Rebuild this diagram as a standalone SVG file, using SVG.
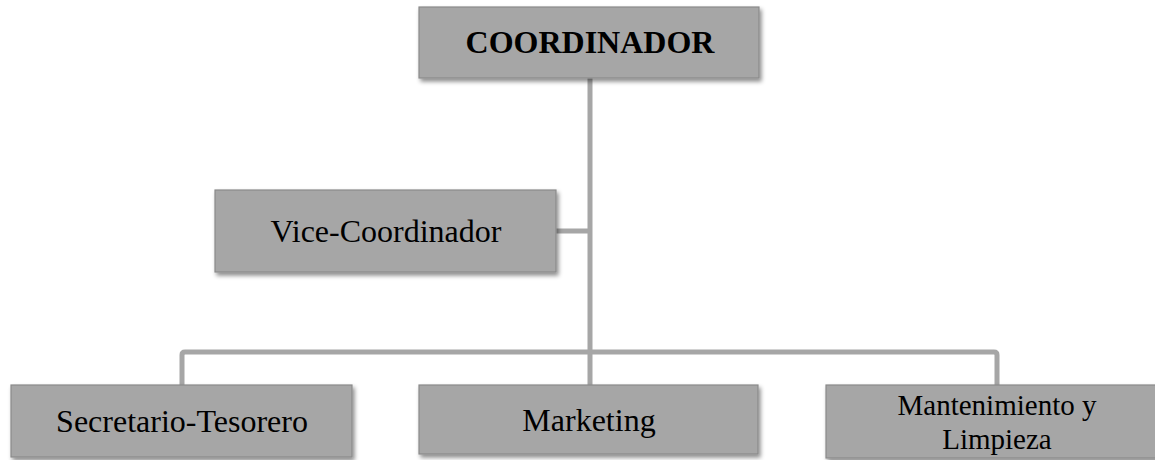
<svg xmlns="http://www.w3.org/2000/svg" width="1155" height="460" viewBox="0 0 1155 460">
<defs>
<filter id="sh" x="-10%" y="-20%" width="120%" height="150%">
<feDropShadow dx="2" dy="3" stdDeviation="2" flood-color="#000" flood-opacity="0.45"/>
</filter>
<style>
.box{fill:#a6a6a6;stroke:#8a8a8a;stroke-width:1.2;filter:url(#sh)}
.t{font-family:"Liberation Serif","Times New Roman",serif;font-size:32px;fill:#000;text-anchor:middle}
.b{font-weight:bold;font-size:32px}
.s{font-size:29px}
.c{fill:none;stroke:#a6a6a6;stroke-width:5;stroke-linejoin:round}
</style>
</defs>
<rect width="1155" height="460" fill="#fff"/>
<g id="connectors">
<path class="c" d="M590 78 V385"/>
<path class="c" d="M556 231 H590"/>
<path class="c" d="M182 385 V355 Q182 352 185 352 H994 Q997 352 997 355 V385"/>
</g>
<g id="coordinador">
<rect class="box" x="419" y="7" width="340" height="71"/>
<text class="t b" x="590" y="53">COORDINADOR</text>
</g>
<g id="vice">
<rect class="box" x="215" y="190" width="341" height="82"/>
<text class="t" x="386" y="242">Vice-Coordinador</text>
</g>
<g id="secretario">
<rect class="box" x="11" y="385" width="341" height="72"/>
<text class="t" x="182" y="432">Secretario-Tesorero</text>
</g>
<g id="marketing">
<rect class="box" x="419" y="385" width="339" height="69"/>
<text class="t" x="589" y="431">Marketing</text>
</g>
<g id="mantenimiento">
<rect class="box" x="826" y="385" width="341" height="73"/>
<text class="t s" x="997" y="415">Mantenimiento y</text>
<text class="t s" x="997" y="449">Limpieza</text>
</g>
</svg>
